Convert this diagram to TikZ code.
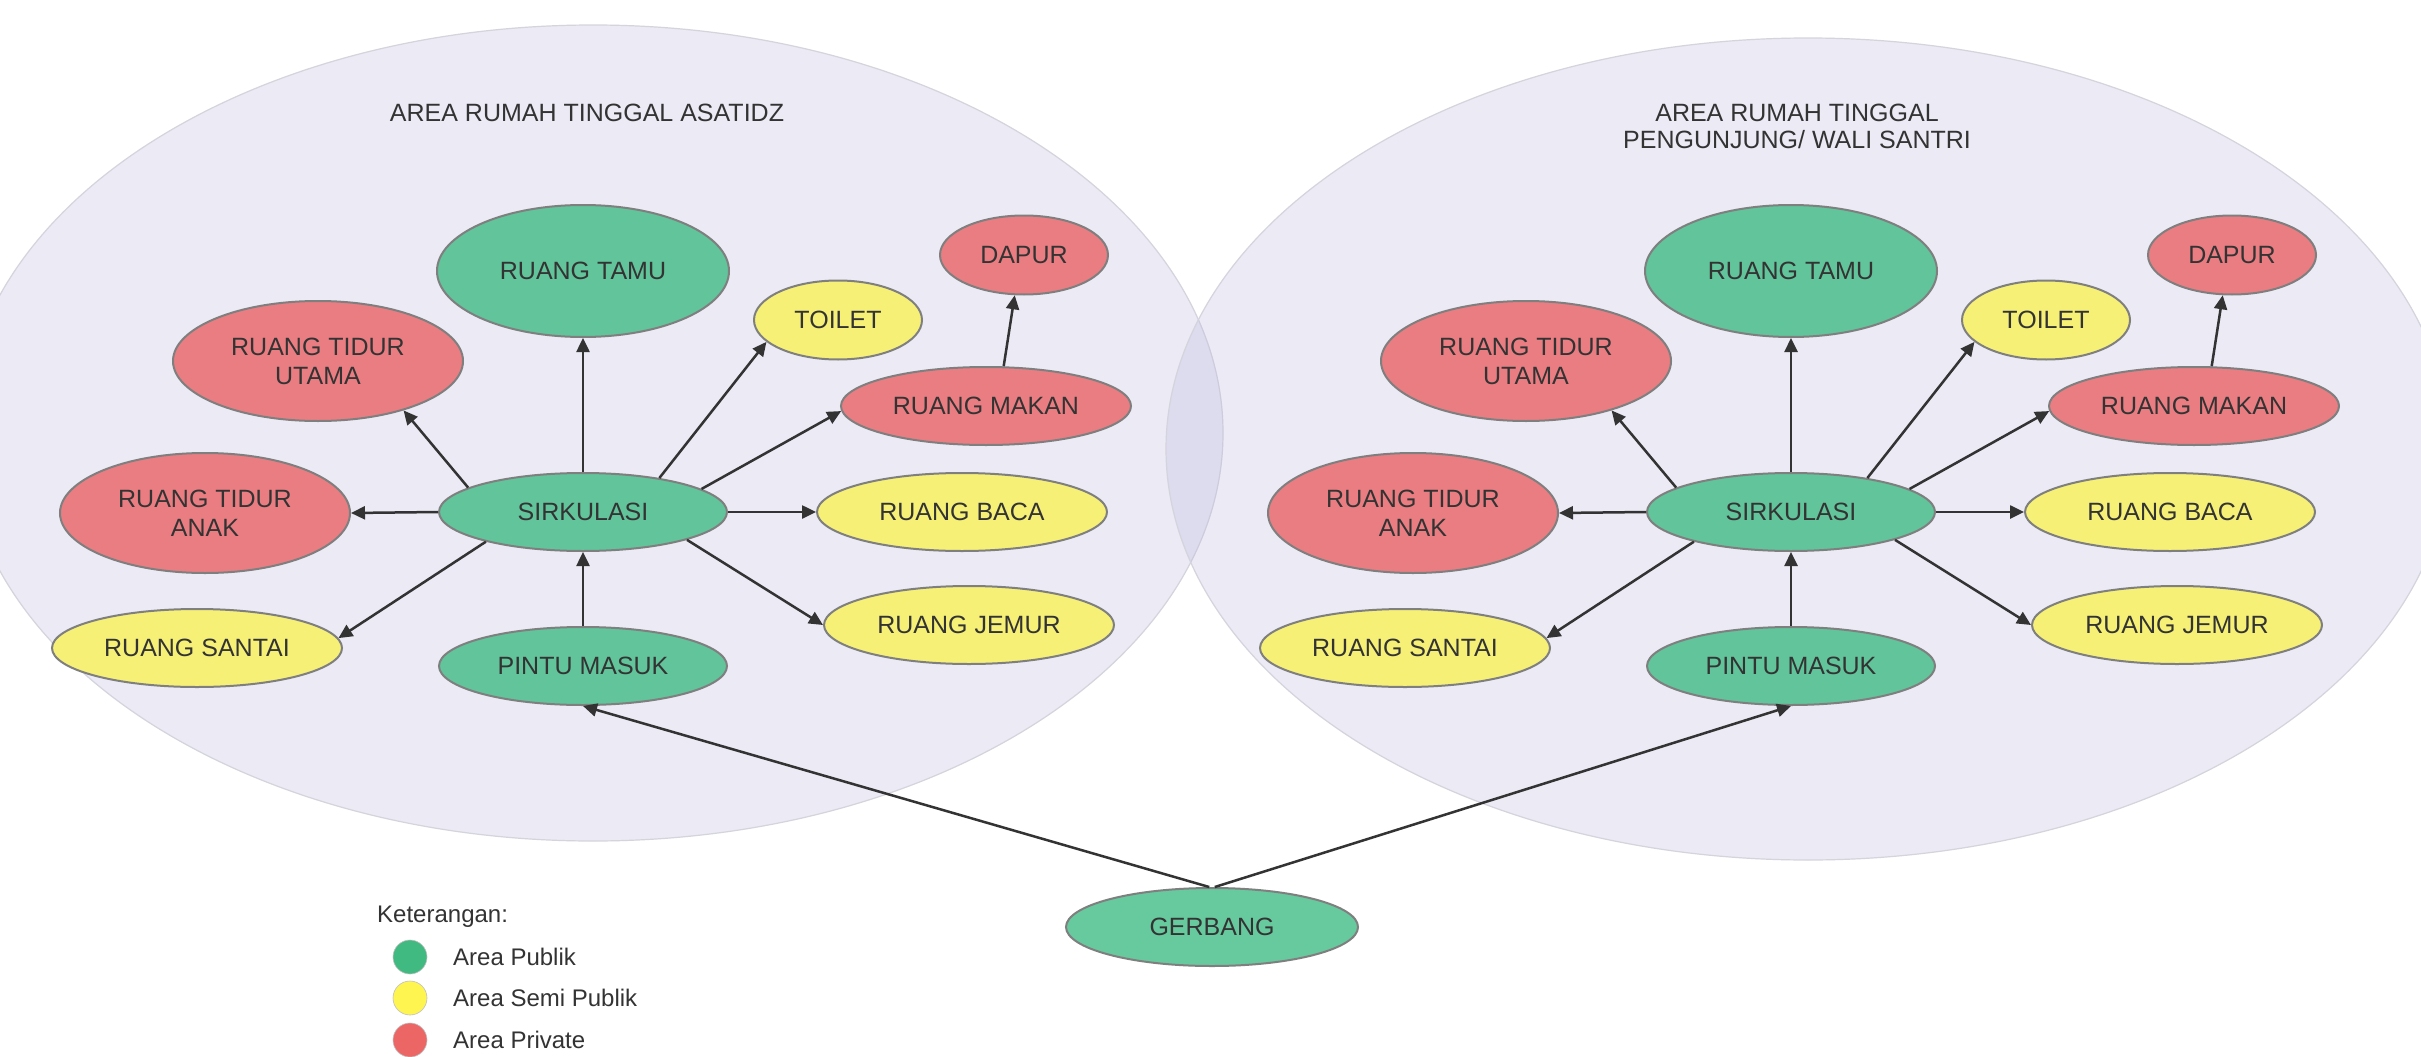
\documentclass[tikz,border=0pt]{standalone}
\usepackage{fontspec}
\setmainfont{Liberation Sans}
\usetikzlibrary{shapes.geometric,arrows.meta}
\definecolor{grn}{HTML}{61C49B}
\definecolor{grn2}{HTML}{67CA9E}
\definecolor{rd}{HTML}{EA7D82}
\definecolor{yl}{HTML}{F6F076}
\definecolor{txt}{HTML}{333333}
\definecolor{bord}{HTML}{7F7F7F}
\definecolor{area}{RGB}{190,186,222}
\definecolor{areaedge}{RGB}{212,212,220}
\definecolor{lgrn}{RGB}{64,186,128}
\definecolor{lyl}{RGB}{255,245,80}
\definecolor{lrd}{RGB}{236,102,102}
\tikzset{
 room/.style={ellipse, draw=bord, line width=2pt, inner sep=0pt, text=txt,
   font=\fontsize{25}{29}\selectfont, align=center},
 pub/.style={room, fill=grn},
 semi/.style={room, fill=yl},
 priv/.style={room, fill=rd},
 wide/.style={minimum width=290pt, minimum height=78pt},
 tall/.style={minimum width=290pt, minimum height=120pt},
 small/.style={minimum width=168pt, minimum height=79pt},
 link/.style={draw=txt, line width=2.5pt, -{Triangle[length=14pt,width=13pt]}},
 zone/.style={ellipse, draw=areaedge, line width=1.2pt, fill=area, fill opacity=0.3,
   inner sep=0pt},
 title/.style={text=txt, font=\fontsize{25}{27}\selectfont, align=center},
 legdot/.style={circle, minimum size=34pt, inner sep=0pt, draw=bord!50, line width=0.6pt},
 legtxt/.style={anchor=west, text=txt, font=\fontsize{24}{28}\selectfont, inner sep=0pt}
}
\newcommand\housecluster{%
  \node[pub, minimum width=292pt, minimum height=132pt] (tamu) at (583,271) {RUANG TAMU};
  \node[priv, small] (dapur) at (1024,255) {DAPUR};
  \node[semi, small] (toilet) at (838,320) {TOILET};
  \node[priv, tall] (utama) at (318,361) {RUANG TIDUR\\UTAMA};
  \node[priv, wide] (makan) at (986,406) {RUANG MAKAN};
  \node[priv, tall] (anak) at (205,513) {RUANG TIDUR\\ANAK};
  \node[pub, minimum width=288pt, minimum height=78pt] (sirk) at (583,512) {SIRKULASI};
  \node[semi, wide] (baca) at (962,512) {RUANG BACA};
  \node[semi, wide] (santai) at (197,648) {RUANG SANTAI};
  \node[semi, wide] (jemur) at (969,625) {RUANG JEMUR};
  \node[pub, minimum width=288pt, minimum height=78pt] (pintu) at (583,666) {PINTU MASUK};
  \draw[link] (sirk.90) -- (tamu.270);
  \draw[link] (sirk.168) -- (utama.330);
  \draw[link] (sirk.24) -- (toilet.197);
  \draw[link] (sirk.11) -- (makan.182);
  \draw[link] (sirk.0) -- (baca.180);
  \draw[link] (sirk.345) -- (jemur.180);
  \draw[link] (sirk.197) -- (santai.4);
  \draw[link] (sirk.180) -- (anak.0);
  \draw[link] (pintu.90) -- (sirk.270);
  \draw[link] (makan.66) -- (dapur.257);
}
\begin{document}
\begin{tikzpicture}[x=1pt,y=-1pt]
\useasboundingbox (0,0) rectangle (2421,1057);
\fill[white] (0,0) rectangle (2421,1057);
\begin{scope}
\clip (0,0) rectangle (2421,1057);
\node[zone, minimum width=1260pt, minimum height=816pt] (zoneL) at (593,433) {};
\node[zone, minimum width=1284pt, minimum height=822pt] (zoneR) at (1808,449) {};
\end{scope}
\node[title] (titleL) at (587,113) {AREA RUMAH TINGGAL ASATIDZ};
\node[title] (titleR) at (1797,126) {AREA RUMAH TINGGAL\\PENGUNJUNG/ WALI SANTRI};
\begin{scope}[name prefix=L-]
\housecluster
\end{scope}
\begin{scope}[xshift=1208pt, name prefix=R-]
\housecluster
\end{scope}
\node[pub, fill=grn2, minimum width=292pt, minimum height=78pt] (gerbang) at (1212,927) {GERBANG};
\draw[link] (gerbang.94) -- (L-pintu.270);
\draw[link] (gerbang.86) -- (R-pintu.270);
\node[legtxt] (ket) at (377,917) {Keterangan:};
\node[legdot, fill=lgrn] (dot1) at (410,957) {};
\node[legdot, fill=lyl] (dot2) at (410,998) {};
\node[legdot, fill=lrd] (dot3) at (410,1040) {};
\node[legtxt] (leg1) at (453,957) {Area Publik};
\node[legtxt] (leg2) at (453,998) {Area Semi Publik};
\node[legtxt] (leg3) at (453,1040) {Area Private};
\end{tikzpicture}
\end{document}
